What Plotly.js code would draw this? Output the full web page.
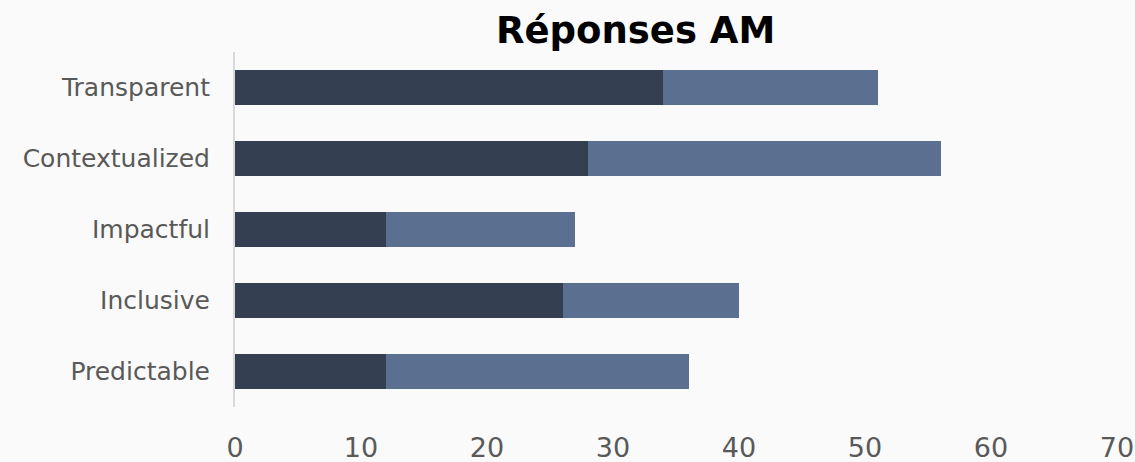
<!DOCTYPE html>
<html>
<head>
<meta charset="utf-8">
<script src="https://cdn.plot.ly/plotly-3.0.1.min.js"></script>
<style>html,body{margin:0;padding:0;background:#fafafa;}#chart{width:1135px;height:462px;}</style>
</head>
<body>
<div id="chart"></div>
<script>
const categories = ["Predictable", "Inclusive", "Impactful", "Contextualized", "Transparent"];
const seriesDark = [12, 26, 12, 28, 34];
const seriesLight = [24, 14, 15, 28, 17];
const xTicks = [0, 10, 20, 30, 40, 50, 60, 70];
const titleText = "Réponses AM";

const traces = [
  {type: "bar", orientation: "h", y: categories, x: seriesDark, marker: {color: "#353f52"}, hoverinfo: "x+y"},
  {type: "bar", orientation: "h", y: categories, x: seriesLight, marker: {color: "#5b7090"}, hoverinfo: "x+y"}
];

const layout = {
  width: 1135, height: 462,
  paper_bgcolor: "#fafafa", plot_bgcolor: "#fafafa",
  barmode: "stack", bargap: 0.5, showlegend: false,
  margin: {l: 235, r: 18, t: 52, b: 55},
  font: {family: "DejaVu Sans, sans-serif", color: "#595959"},
  title: {text: "<b>" + titleText + "</b>", x: 0.56, xanchor: "center", y: 0.935, yanchor: "middle",
          font: {family: "DejaVu Sans, sans-serif", size: 37, color: "#000000"}},
  xaxis: {range: [0, 70], tickvals: xTicks, ticktext: xTicks.map(String), showgrid: false, zeroline: false,
          showline: false, ticks: "", tickfont: {size: 27, color: "#595959"}, ticklabelstandoff: 22, fixedrange: true},
  yaxis: {showgrid: false, zeroline: false, showline: true, linecolor: "#d9d9d9", linewidth: 2, ticks: "",
          tickfont: {size: 25, color: "#595959"}, ticklabelstandoff: 18, fixedrange: true}
};

Plotly.newPlot("chart", traces, layout, {displayModeBar: false, staticPlot: true});
</script>
</body>
</html>
